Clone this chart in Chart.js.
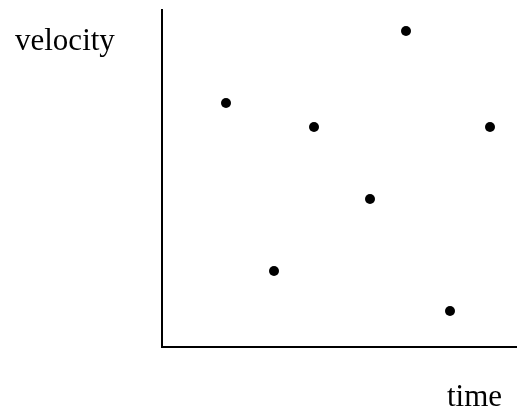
<!DOCTYPE html>
<html>
<head>
<meta charset="utf-8">
<script src="https://cdn.jsdelivr.net/npm/chart.js@4"></script>
<style>
  html, body { margin: 0; padding: 0; background: #fff; }
  #wrap { position: relative; width: 517px; height: 415px; overflow: hidden; }
  canvas { position: absolute; left: 0; top: 0; }
  .lbl { position: absolute; font-family: "Liberation Serif", "Times New Roman", serif; font-size: 31px; color: #000; line-height: 1; white-space: nowrap; }
</style>
</head>
<body>
<div id="wrap">
  <canvas id="c" width="517" height="415"></canvas>
  <div class="lbl" id="ylab" style="left:15px; top:24px;">velocity</div>
  <div class="lbl" id="xlab" style="left:447px; top:380px;">time</div>
</div>
<script>
// Data (arbitrary units, no tick labels in the original)
const timeValues = [64, 112, 152, 208, 244, 288, 328];
const velocityValues = [244, 76, 220, 148, 316, 36, 220];
const xRange = [0, 355];
const yRange = [0, 337];

const points = timeValues.map((t, i) => ({ x: t, y: velocityValues[i] }));

new Chart(document.getElementById('c'), {
  type: 'scatter',
  data: {
    datasets: [{
      data: points,
      backgroundColor: '#000',
      borderWidth: 0,
      pointRadius: 5,
      pointHoverRadius: 5,
      clip: false
    }]
  },
  options: {
    responsive: false,
    animation: false,
    events: [],
    layout: { autoPadding: false, padding: { left: 162, top: 10, right: 0, bottom: 68 } },
    plugins: { legend: { display: false }, tooltip: { enabled: false } },
    scales: {
      x: {
        type: 'linear', min: xRange[0], max: xRange[1],
        ticks: { display: false },
        grid: { display: false, drawTicks: false },
        border: { display: true, color: '#000', width: 2 }
      },
      y: {
        type: 'linear', min: yRange[0], max: yRange[1],
        ticks: { display: false },
        grid: { display: false, drawTicks: false },
        border: { display: true, color: '#000', width: 2 }
      }
    }
  }
});
</script>
</body>
</html>
